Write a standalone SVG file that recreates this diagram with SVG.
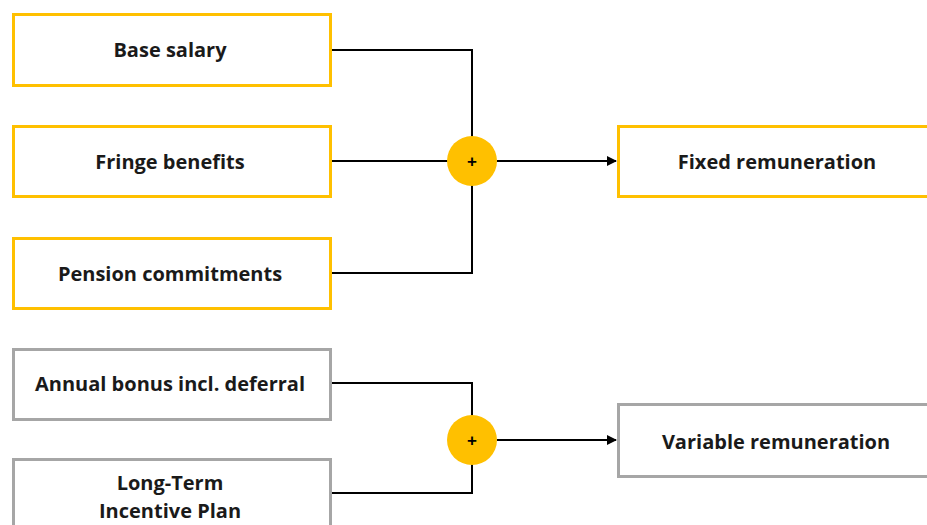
<svg xmlns="http://www.w3.org/2000/svg" width="927" height="525" viewBox="0 0 927 525">
<defs>
<marker id="arr" markerWidth="10" markerHeight="10" refX="9" refY="5" orient="auto" markerUnits="userSpaceOnUse">
<path d="M0,0 L10,5 L0,10 Z" fill="#000"/>
</marker>
<style>
.y{fill:#fff;stroke:#FFC000;stroke-width:3}
.g{fill:#fff;stroke:#A6A6A6;stroke-width:3}
.t{font-family:"Open Sans","Liberation Sans",sans-serif;font-weight:bold;font-size:20px;fill:#1a1a1a;text-anchor:middle}
.c{fill:#FFC000}
.p{font-family:"Liberation Sans",sans-serif;font-weight:bold;font-size:17px;fill:#000;text-anchor:middle}
.l{fill:none;stroke:#000;stroke-width:2}
</style>
</defs>
<rect width="927" height="525" fill="#fff"/>
<g id="connectors">
<path class="l" d="M331,50 H472 V161"/>
<path class="l" d="M331,161 H472"/>
<path class="l" d="M331,273 H472 V161"/>
<path class="l" d="M497,161 H616" marker-end="url(#arr)"/>
<path class="l" d="M331,383 H472 V440"/>
<path class="l" d="M331,493 H472 V440"/>
<path class="l" d="M497,440 H616" marker-end="url(#arr)"/>
</g>
<g id="base-salary"><rect class="y" x="13.5" y="14.5" width="317" height="71"/><text class="t" x="170" y="57">Base salary</text></g>
<g id="fringe-benefits"><rect class="y" x="13.5" y="126.5" width="317" height="70"/><text class="t" x="170" y="169">Fringe benefits</text></g>
<g id="pension-commitments"><rect class="y" x="13.5" y="238.5" width="317" height="70"/><text class="t" x="170" y="281">Pension commitments</text></g>
<g id="annual-bonus"><rect class="g" x="13.5" y="349.5" width="317" height="70"/><text class="t" x="170" y="391">Annual bonus incl. deferral</text></g>
<g id="ltip"><rect class="g" x="13.5" y="459.5" width="317" height="80"/><text class="t" x="170" y="490">Long-Term</text><text class="t" x="170" y="518">Incentive Plan</text></g>
<g id="sum-fixed"><circle class="c" cx="472" cy="161" r="25"/><text class="p" x="472" y="167">+</text></g>
<g id="sum-variable"><circle class="c" cx="472" cy="440" r="25"/><text class="p" x="472" y="446">+</text></g>
<g id="fixed-remuneration"><rect class="y" x="618.5" y="126.5" width="320" height="70"/><text class="t" x="777" y="169">Fixed remuneration</text></g>
<g id="variable-remuneration"><rect class="g" x="618.5" y="404.5" width="320" height="72"/><text class="t" x="776" y="449">Variable remuneration</text></g>
</svg>
